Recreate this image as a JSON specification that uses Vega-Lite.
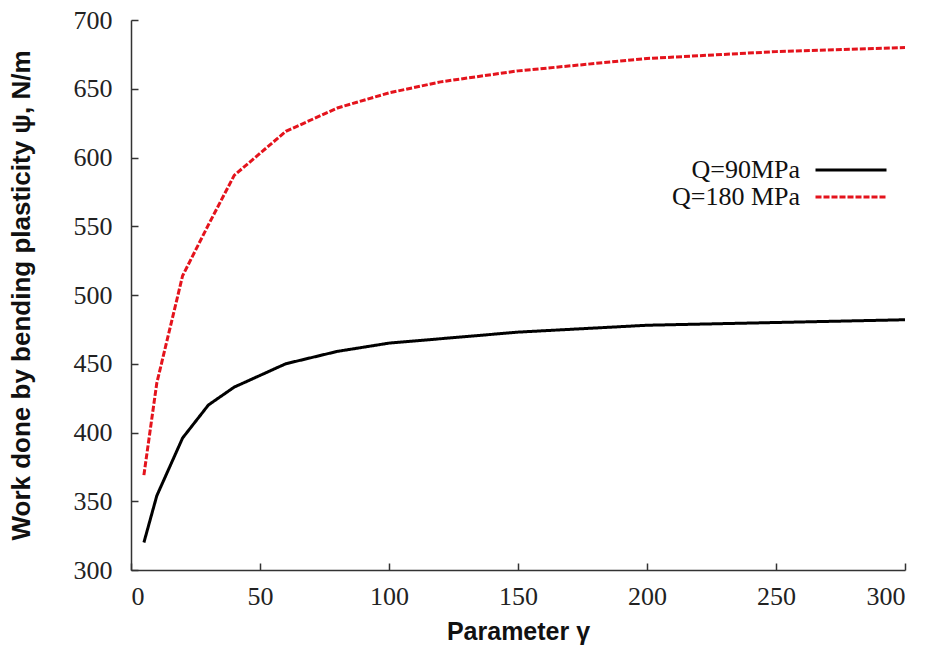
{
  "$schema": "https://vega.github.io/schema/vega-lite/v6.json",
  "width": 774,
  "height": 550,
  "autosize": {"type": "none"},
  "padding": {"left": 131, "top": 20, "right": 26, "bottom": 82},
  "background": "white",
  "config": {"view": {"stroke": null}},
  "data": {
    "values": [
      {"gamma": 5, "psi": 320, "series": "Q=90MPa"},
      {"gamma": 10, "psi": 354, "series": "Q=90MPa"},
      {"gamma": 20, "psi": 396, "series": "Q=90MPa"},
      {"gamma": 30, "psi": 420, "series": "Q=90MPa"},
      {"gamma": 40, "psi": 433, "series": "Q=90MPa"},
      {"gamma": 60, "psi": 450, "series": "Q=90MPa"},
      {"gamma": 80, "psi": 459, "series": "Q=90MPa"},
      {"gamma": 100, "psi": 465, "series": "Q=90MPa"},
      {"gamma": 150, "psi": 473, "series": "Q=90MPa"},
      {"gamma": 200, "psi": 478, "series": "Q=90MPa"},
      {"gamma": 250, "psi": 480, "series": "Q=90MPa"},
      {"gamma": 300, "psi": 482, "series": "Q=90MPa"},
      {"gamma": 5, "psi": 369, "series": "Q=180 MPa"},
      {"gamma": 10, "psi": 436, "series": "Q=180 MPa"},
      {"gamma": 20, "psi": 514, "series": "Q=180 MPa"},
      {"gamma": 30, "psi": 551, "series": "Q=180 MPa"},
      {"gamma": 40, "psi": 587, "series": "Q=180 MPa"},
      {"gamma": 60, "psi": 619, "series": "Q=180 MPa"},
      {"gamma": 80, "psi": 636, "series": "Q=180 MPa"},
      {"gamma": 100, "psi": 647, "series": "Q=180 MPa"},
      {"gamma": 120, "psi": 655, "series": "Q=180 MPa"},
      {"gamma": 150, "psi": 663, "series": "Q=180 MPa"},
      {"gamma": 200, "psi": 672, "series": "Q=180 MPa"},
      {"gamma": 250, "psi": 677, "series": "Q=180 MPa"},
      {"gamma": 300, "psi": 680, "series": "Q=180 MPa"}
    ]
  },
  "mark": {"type": "line", "strokeWidth": 3},
  "encoding": {
    "x": {
      "field": "gamma", "type": "quantitative",
      "scale": {"domain": [0, 300], "nice": false, "zero": false},
      "axis": {
        "title": "Parameter γ",
        "values": [0, 50, 100, 150, 200, 250, 300],
        "grid": false,
        "tickSize": -7,
        "labelPadding": 20,
        "labelFont": "Liberation Serif", "labelFontSize": 26, "labelColor": "#222",
        "titleFont": "Liberation Sans", "titleFontSize": 25, "titleFontWeight": "bold", "titleColor": "#111",
        "titlePadding": 10,
        "domainColor": "#333", "domainWidth": 1.5, "tickColor": "#333", "tickWidth": 1.5
      }
    },
    "y": {
      "field": "psi", "type": "quantitative",
      "scale": {"domain": [300, 700], "nice": false, "zero": false},
      "axis": {
        "title": "Work done by bending plasticity ψ, N/m",
        "values": [300, 350, 400, 450, 500, 550, 600, 650, 700],
        "grid": false,
        "tickSize": -7,
        "labelPadding": 26,
        "labelFont": "Liberation Serif", "labelFontSize": 26, "labelColor": "#222",
        "titleFont": "Liberation Sans", "titleFontSize": 26, "titleFontWeight": "bold", "titleColor": "#111",
        "titlePadding": 39,
        "domainColor": "#333", "domainWidth": 1.5, "tickColor": "#333", "tickWidth": 1.5
      }
    },
    "color": {
      "field": "series", "type": "nominal",
      "scale": {"domain": ["Q=90MPa", "Q=180 MPa"], "range": ["#000000", "#e4131c"]},
      "legend": {
        "title": null,
        "values": ["Q=90MPa"],
        "orient": "none",
        "legendX": 683,
        "legendY": 113,
        "symbolType": "stroke",
        "symbolSize": 5041,
        "symbolStrokeWidth": 3,
        "labelFont": "Liberation Serif",
        "labelFontSize": 26,
        "labelColor": "#111",
        "labelAlign": "right",
        "labelOffset": -88
      }
    },
    "strokeDash": {
      "field": "series", "type": "nominal",
      "scale": {"domain": ["Q=180 MPa", "Q=90MPa"], "range": [[6, 2], [1, 0]]},
      "legend": {
        "title": null,
        "values": ["Q=180 MPa"],
        "orient": "none",
        "legendX": 683,
        "legendY": 140,
        "symbolType": "stroke",
        "symbolSize": 5041,
        "symbolStrokeWidth": 3,
        "symbolStrokeColor": "#e4131c",
        "labelFont": "Liberation Serif",
        "labelFontSize": 26,
        "labelColor": "#111",
        "labelAlign": "right",
        "labelOffset": -88
      }
    }
  }
}
